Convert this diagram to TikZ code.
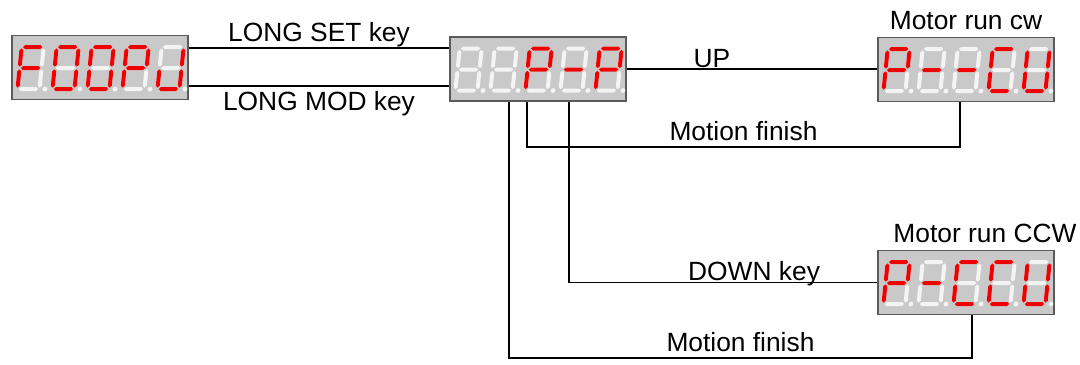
\documentclass[tikz,border=0pt]{standalone}
\usepackage{fontspec}
\setmainfont{Liberation Sans}
\usetikzlibrary{positioning}

\definecolor{segred}{RGB}{240,0,0}
\definecolor{segoff}{RGB}{244,244,244}
\definecolor{dispgray}{RGB}{201,201,201}
\definecolor{dispedge}{RGB}{90,90,90}

\tikzset{
    seglit/.style={fill=segred},
    segdim/.style={fill=segoff}
}

% one segment of a digit: style, from, to, level
\newcommand{\hseg}[4]{\fill[#1] (#2+1.3,#4) -- (#2+3.3,#4-2) -- (#3-3.3,#4-2) -- (#3-1.3,#4) -- (#3-3.3,#4+2) -- (#2+3.3,#4+2) -- cycle;}
\newcommand{\vseg}[4]{\fill[#1] (#2,#3+1.3) -- (#2+2,#3+3.3) -- (#2+2,#4-3.3) -- (#2,#4-1.3) -- (#2-2,#4-3.3) -- (#2-2,#3+3.3) -- cycle;}
\newcommand{\segA}[1]{\hseg{#1}{0}{22}{-42}}
\newcommand{\segB}[1]{\vseg{#1}{22}{-42}{-21}}
\newcommand{\segC}[1]{\vseg{#1}{22}{-21}{0}}
\newcommand{\segD}[1]{\hseg{#1}{0}{22}{0}}
\newcommand{\segE}[1]{\vseg{#1}{0}{-21}{0}}
\newcommand{\segF}[1]{\vseg{#1}{0}{-42}{-21}}
\newcommand{\segG}[1]{\hseg{#1}{0}{22}{-21}}
\newcommand{\segP}[1]{\fill[#1] (27.5,0) circle (2.4);}
\newcommand{\segN}[1]{}

% digit at x, y with the lit segments
\newcommand{\segdigit}[3]{%
    \begin{scope}[shift={(#1,#2)}, xslant=0.1]
        \foreach \s in {A,B,C,D,E,F,G,P} {\csname seg\s\endcsname{segdim}}
        \foreach \s in {#3} {\csname seg\s\endcsname{seglit}}
    \end{scope}}

% five digits inside a display node
\newcommand{\segdisplay}[6]{%
    \begin{scope}[shift={(#1.south west)}]
        \segdigit{6}{-11}{#2}
        \segdigit{41}{-11}{#3}
        \segdigit{76}{-11}{#4}
        \segdigit{111}{-11}{#5}
        \segdigit{146}{-11}{#6}
    \end{scope}}

\begin{document}
\begin{tikzpicture}[
    x=0.02cm, y=-0.02cm,
    font=\fontsize{15}{18}\selectfont,
    display/.style={rectangle, draw=dispedge, fill=dispgray, line width=0.6pt, minimum width=3.52cm, minimum height=1.28cm, inner sep=0pt},
    link/.style={line width=0.9pt}
]
    \useasboundingbox (0,0) rectangle (1080,365);

    \node [display] (d1) at (100,67.5) {};
    \node [display] (d2) at (538,69) {};
    \node [display] (d3) at (966,69.5) {};
    \node [display] (d4) at (966,282.5) {};

    \segdisplay{d1}{A,E,F,G}{A,B,C,D,E,F}{A,B,C,D,E,F}{A,B,E,F,G}{B,C,D,E}
    \segdisplay{d2}{N}{N}{A,B,E,F,G}{G}{A,B,E,F,G}
    \segdisplay{d3}{A,B,E,F,G}{G}{G}{A,D,E,F}{B,C,D,E,F}
    \segdisplay{d4}{A,B,E,F,G}{G}{A,D,E,F}{A,D,E,F}{B,C,D,E,F}

    \node [above=0.02cm of d3] (cw) {Motor run cw};
    \node [above=0.02cm of d4, xshift=0.38cm] (ccw) {Motor run CCW};

    % long key presses
    \coordinate (set) at ([yshift=0.39cm]d1.east);
    \coordinate (mod) at ([yshift=-0.37cm]d1.east);
    \draw [link] (set) -- (set -| d2.west) node [midway, above, yshift=-0.12cm] (setkey) {LONG SET key};
    \draw [link] (mod) -- (mod -| d2.west) node [midway, below, yshift=0.03cm] (modkey) {LONG MOD key};

    % up / down
    \draw [link] (d2.east) -- (d2.east -| d3.west) node [pos=0.34, above, yshift=-0.1cm] (up) {UP};
    \coordinate (down) at ([xshift=0.62cm]d2.south);
    \draw [link] (down) |- (d4.west) node [pos=0.8, above, yshift=-0.2cm] (downkey) {DOWN key};

    % back after the motion
    \coordinate (cwend) at ([xshift=-0.12cm]d3.south);
    \coordinate (cwback) at ([xshift=-0.22cm]d2.south);
    \draw [link] (cwend) -- ++(0,45) coordinate (cwlow) -- (cwlow -| cwback) node [midway, above] (cwfin) {Motion finish} -- (cwback);
    \coordinate (ccwend) at ([xshift=0.12cm]d4.south);
    \coordinate (ccwback) at ([xshift=-0.58cm]d2.south);
    \draw [link] (ccwend) -- ++(0,43) coordinate (ccwlow) -- (ccwlow -| ccwback) node [midway, above] (ccwfin) {Motion finish} -- (ccwback);
\end{tikzpicture}
\end{document}
